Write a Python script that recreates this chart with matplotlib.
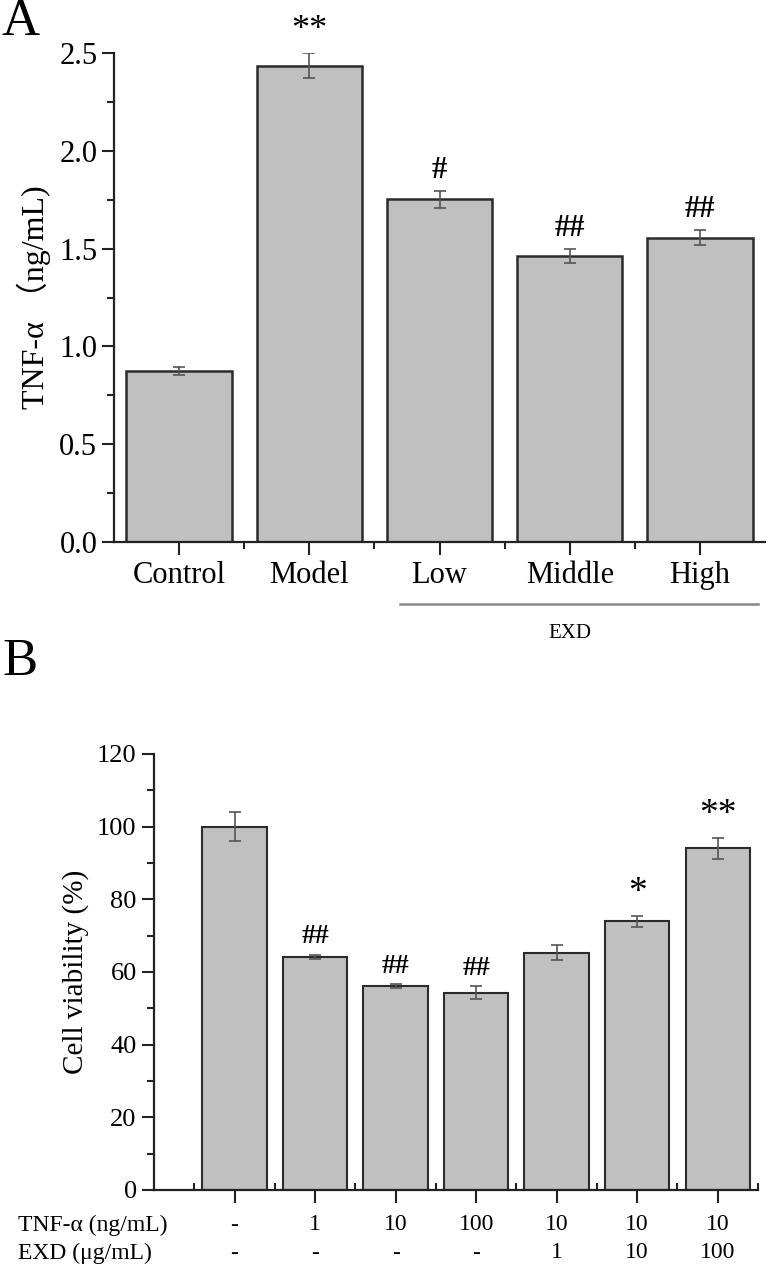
import numpy as np
import matplotlib
matplotlib.use("Agg")
import matplotlib.pyplot as plt
import matplotlib.transforms as mtransforms

plt.rcParams['font.family'] = ['Liberation Serif', 'Noto Sans CJK SC', 'DejaVu Sans']

# panel A data
groups_a = ["Control", "Model", "Low", "Middle", "High"]
tnf_a = [0.876, 2.435, 1.752, 1.462, 1.556]
tnf_err = [0.02, 0.064, 0.044, 0.038, 0.04]
marks_a = ["", "**", "#", "##", "##"]

# panel B data
viab = [100.0, 64.2, 56.1, 54.3, 65.3, 74.0, 94.0]
viab_err = [4.0, 0.5, 0.5, 1.8, 2.0, 1.5, 3.0]
marks_b = ["", "##", "##", "##", "", "*", "**"]
tnf_dose = ["-", "1", "10", "100", "10", "10", "10"]
exd_dose = ["-", "-", "-", "-", "1", "10", "100"]

W, H = 768, 1266
fig = plt.figure(figsize=(W / 100, H / 100), dpi=100)

def px_axes(x0, y0, x1, y1):
    # pixel box (top-left origin) -> figure axes
    return fig.add_axes([x0 / W, 1 - y1 / H, (x1 - x0) / W, (y1 - y0) / H])

bar_fc = "#c0c0c0"
bar_ec = "#2b2b2b"
err_c = "#555555"

# ---------- panel A ----------
ax = px_axes(114, 53, 765, 542)
xa = np.arange(len(groups_a))
ax.bar(xa, tnf_a, width=0.81, color=bar_fc, edgecolor=bar_ec, linewidth=1.8, zorder=2)
ax.errorbar(xa, tnf_a, yerr=tnf_err, fmt="none", ecolor=err_c, elinewidth=1.2,
            capsize=4, capthick=1.2, zorder=3)
for x, v, e, m in zip(xa, tnf_a, tnf_err, marks_a):
    if m:
        fs = 26 if "*" in m else 22
        ax.text(x, v + e + 0.03, m, ha="center", va="bottom", fontsize=fs,
                fontweight="bold" if "#" in m else "normal", clip_on=False)
ax.set_xlim(-0.5, 4.5)
ax.set_ylim(0, 2.5)
ax.set_yticks(np.arange(0, 2.51, 0.5))
ax.set_yticks(np.arange(0.25, 2.5, 0.5), minor=True)
ax.set_yticklabels(["%.1f" % t for t in np.arange(0, 2.51, 0.5)])
ax.set_xticks(xa)
ax.set_xticks(np.arange(0.5, 4.5, 1.0), minor=True)
ax.set_xticklabels(groups_a)
ax.spines["top"].set_visible(False)
ax.spines["right"].set_visible(False)
for s in ["left", "bottom"]:
    ax.spines[s].set_linewidth(1.6)
    ax.spines[s].set_color("#222222")
ax.tick_params(axis="both", which="major", direction="out", length=9, width=1.5,
               labelsize=22, colors="#222222", labelcolor="black")
ax.tick_params(axis="both", which="minor", direction="out", length=5, width=1.5,
               colors="#222222")
ax.tick_params(axis="x", which="major", pad=5)
ax.tick_params(axis="y", which="major", pad=3)
ax.set_ylabel("TNF-α （ng/mL)", fontsize=23, labelpad=6)

# EXD bracket line under Low..High
tr = mtransforms.blended_transform_factory(ax.transData, fig.transFigure)
ax.plot([1.7, 4.45], [1 - 604 / H] * 2, color="#888888", lw=1.8,
        transform=tr, clip_on=False)
ax.text(3.0, 1 - 633 / H, "EXD", ha="center", va="center", fontsize=15,
        transform=tr)

fig.text(2 / W, 1 - 22 / H, "A", fontsize=38, ha="left", va="center")

# ---------- panel B ----------
bx = px_axes(154, 754, 758, 1190)
xb = np.arange(1, len(viab) + 1)
bx.bar(xb, viab, width=0.8, color=bar_fc, edgecolor=bar_ec, linewidth=1.5, zorder=2)
bx.errorbar(xb, viab, yerr=viab_err, fmt="none", ecolor=err_c, elinewidth=1.2,
            capsize=4, capthick=1.2, zorder=3)
for x, v, e, m in zip(xb, viab, viab_err, marks_b):
    if m:
        fs = 27 if "*" in m else 20
        bx.text(x, v + e + 1.5, m, ha="center", va="bottom", fontsize=fs,
                fontweight="bold" if "#" in m else "normal", clip_on=False)
bx.set_xlim(0, 7.5)
bx.set_ylim(0, 120)
bx.set_yticks(np.arange(0, 121, 20))
bx.set_yticks(np.arange(10, 120, 20), minor=True)
bx.set_xticks(xb)
bx.set_xticks(np.arange(0.5, 8.0, 1.0), minor=True)
bx.set_xticklabels([])
bx.spines["top"].set_visible(False)
bx.spines["right"].set_visible(False)
for s in ["left", "bottom"]:
    bx.spines[s].set_linewidth(1.6)
    bx.spines[s].set_color("#222222")
bx.tick_params(axis="both", which="major", direction="out", length=9, width=1.5,
               labelsize=19, colors="#222222", labelcolor="black")
bx.tick_params(axis="y", which="minor", direction="out", length=5, width=1.5,
               colors="#222222")
bx.tick_params(axis="x", which="minor", direction="in", length=5, width=1.5,
               colors="#222222")
bx.set_ylabel("Cell viability (%)", fontsize=21, labelpad=6)

trb = mtransforms.blended_transform_factory(bx.transData, fig.transFigure)
for x, a, b in zip(xb, tnf_dose, exd_dose):
    bx.text(x, 1 - 1225 / H, a, ha="center", va="center", fontsize=17, transform=trb)
    bx.text(x, 1 - 1253 / H, b, ha="center", va="center", fontsize=17, transform=trb)
fig.text(18 / W, 1 - 1225 / H, "TNF-α (ng/mL)", fontsize=17, ha="left", va="center")
fig.text(18 / W, 1 - 1253 / H, "EXD (μg/mL)", fontsize=17, ha="left", va="center")

fig.text(2 / W, 1 - 662 / H, "B", fontsize=38, ha="left", va="center")

fig.savefig("out.png", dpi=100, facecolor="white")
